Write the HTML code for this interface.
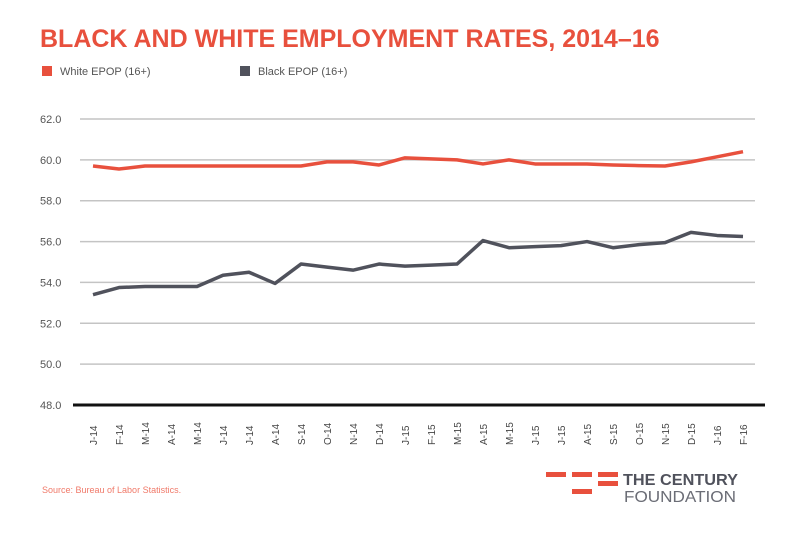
<!DOCTYPE html>
<html><head><meta charset="utf-8"><style>
body{margin:0;background:#fff;width:800px;height:540px;overflow:hidden;font-family:"Liberation Sans",sans-serif}
</style></head><body>
<svg width="800" height="540">
<text x="40" y="47" font-size="25" font-weight="bold" fill="#e8503d">BLACK AND WHITE EMPLOYMENT RATES, 2014–16</text>
<g><rect x="42" y="66" width="10" height="10" fill="#e8503d"/><text x="60" y="75" font-size="11" fill="#555">White EPOP (16+)</text></g>
<g><rect x="240" y="66" width="10" height="10" fill="#50525c"/><text x="258" y="75" font-size="11" fill="#555">Black EPOP (16+)</text></g>
<g id="grid"></g><g id="series"></g><g id="xlabels"></g>
<text x="42" y="493" font-size="9" fill="#f07a6a">Source: Bureau of Labor Statistics.</text>
<g>
<rect x="546" y="472" width="20" height="5" fill="#e8503d"/><rect x="572" y="472" width="20" height="5" fill="#e8503d"/><rect x="598" y="472" width="20" height="5" fill="#e8503d"/>
<rect x="598" y="481" width="20" height="5" fill="#e8503d"/><rect x="572" y="489" width="20" height="5" fill="#e8503d"/>
<text x="623" y="485" font-size="16" font-weight="bold" fill="#50525c" textLength="115" lengthAdjust="spacingAndGlyphs">THE CENTURY</text>
<text x="624" y="502" font-size="15.5" fill="#6b6d76" textLength="112" lengthAdjust="spacingAndGlyphs">FOUNDATION</text></g>
</svg>
<script>
const categories=["J-14","F-14","M-14","A-14","M-14","J-14","J-14","A-14","S-14","O-14","N-14","D-14","J-15","F-15","M-15","A-15","M-15","J-15","J-15","A-15","S-15","O-15","N-15","D-15","J-16","F-16"];
const whiteValues=[59.7,59.55,59.7,59.7,59.7,59.7,59.7,59.7,59.7,59.9,59.9,59.75,60.1,60.05,60.0,59.8,60.0,59.8,59.8,59.8,59.75,59.72,59.7,59.9,60.15,60.4];
const blackValues=[53.4,53.75,53.8,53.8,53.8,54.35,54.5,53.95,54.9,54.75,54.6,54.9,54.8,54.85,54.9,56.05,55.7,55.75,55.8,56.0,55.7,55.85,55.95,56.45,56.3,56.25];
const yTicks=[48,50,52,54,56,58,60,62];
const NS="http://www.w3.org/2000/svg";
const x=i=>93+i*(743-93)/(categories.length-1);
const y=v=>405-(v-48)*(405-119)/14;
function mk(t,a,p){const e=document.createElementNS(NS,t);for(const k in a)e.setAttribute(k,a[k]);p.appendChild(e);return e;}
const grid=document.getElementById('grid');
yTicks.forEach(v=>{
 if(v>48){const l=mk('line',{x1:80,x2:755,y1:y(v),y2:y(v),stroke:'#c4c4c4','stroke-width':1.5},grid);
 
 }
 const t=mk('text',{x:40,y:y(v)+4,'font-size':11,fill:'#555'},grid);t.textContent=v.toFixed(1);
 
 
});
const ax=mk('line',{x1:73,x2:765,y1:405,y2:405,stroke:'#111','stroke-width':3},grid);


const s=document.getElementById('series');
[[whiteValues,'#e8503d','white-line'],[blackValues,'#50525c','black-line']].forEach(([d,c,n])=>{
 const p=mk('polyline',{points:d.map((v,i)=>x(i)+','+y(v)).join(' '),fill:'none',stroke:c,'stroke-width':3.5,'stroke-linejoin':'round'},s);
 
 
});
const xl=document.getElementById('xlabels');
categories.forEach((c,i)=>{
 const t=mk('text',{transform:`translate(${x(i)+4},${445}) rotate(-90)`,'font-size':10,fill:'#444'},xl);t.textContent=c;
 
 
});
</script>
</body></html>
